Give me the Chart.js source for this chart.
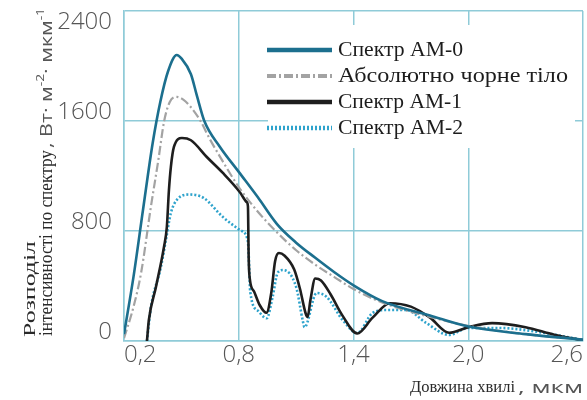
<!DOCTYPE html>
<html>
<head>
<meta charset="utf-8">
<script src="https://cdn.jsdelivr.net/npm/chart.js@4/dist/chart.umd.min.js"></script>
<style>
  html, body { margin: 0; padding: 0; background: #fff; }
  canvas { display: block; }
</style>
</head>
<body>
<canvas id="chart" width="587" height="400"></canvas>
<script>
// Axis ticks
const xTicks = [0.2, 0.8, 1.4, 2.0, 2.6];
const yTicks = [0, 800, 1600, 2400];

// Spectral irradiance, W·m⁻²·µm⁻¹, against wavelength, µm
const am0Wl  = [0.2, 0.25, 0.3, 0.35, 0.39, 0.43, 0.476, 0.5, 0.55, 0.58, 0.62, 0.7, 0.8, 0.9, 1.0, 1.1, 1.2, 1.3, 1.4, 1.55, 1.8, 2.0, 2.3, 2.6];
const am0Val = [50, 470, 960, 1440, 1740, 1960, 2080, 2055, 1940, 1790, 1600, 1415, 1230, 1045, 850, 715, 605, 500, 405, 290, 185, 105, 50, 10];

const bbWl  = [0.2, 0.25, 0.29, 0.34, 0.38, 0.41, 0.44, 0.475, 0.51, 0.55, 0.6, 0.65, 0.7, 0.8, 0.9, 1.0, 1.1, 1.2, 1.3, 1.4, 1.55, 1.8, 2.0, 2.3, 2.6];
const bbVal = [20, 250, 500, 970, 1320, 1600, 1740, 1775, 1755, 1700, 1600, 1465, 1345, 1120, 940, 790, 660, 555, 465, 378, 280, 175, 110, 50, 10];

const am1Wl  = [0.32, 0.33, 0.367, 0.409, 0.424, 0.435, 0.445, 0.461, 0.503, 0.55, 0.633, 0.717, 0.805, 0.842, 0.848, 0.852, 0.858, 0.88, 0.91, 0.945, 0.97, 0.99, 1.01, 1.04, 1.09, 1.12, 1.15, 1.16, 1.175, 1.2, 1.23, 1.28, 1.34, 1.42, 1.5, 1.59, 1.7, 1.8, 1.9, 2.0, 2.125, 2.3, 2.45, 2.6];
const am1Val = [0, 153, 393, 684, 829, 1098, 1265, 1411, 1476, 1460, 1338, 1222, 1084, 1010, 980, 600, 450, 360, 260, 205, 350, 580, 640, 620, 520, 380, 200, 175, 300, 455, 440, 340, 190, 55, 170, 275, 250, 170, 60, 100, 130, 100, 45, 5];

const am2Wl  = [0.32, 0.341, 0.393, 0.419, 0.445, 0.476, 0.544, 0.617, 0.717, 0.805, 0.842, 0.85, 0.86, 0.9, 0.946, 0.977, 1.003, 1.03, 1.1, 1.134, 1.144, 1.207, 1.26, 1.343, 1.42, 1.5, 1.572, 1.676, 1.78, 1.9, 2.0, 2.16, 2.37, 2.6];
const am2Val = [0, 247, 538, 735, 931, 1025, 1065, 1040, 902, 807, 756, 690, 360, 220, 165, 320, 495, 516, 393, 153, 100, 349, 320, 153, 58, 204, 225, 225, 131, 44, 95, 95, 65, 7];

const seriesNames = ['Спектр АМ-0', 'Абсолютно чорне тіло', 'Спектр АМ-1', 'Спектр АМ-2'];

const GRID = '#8fcbd8';
const SERIF = '"Liberation Serif", "DejaVu Serif", serif';
const SANS = '"Open Sans", "DejaVu Sans", sans-serif';

const toPoints = (wl, val) => wl.map((x, i) => ({ x, y: val[i] }));
const fmt = v => v.toFixed(1).replace('.', ',');

const styles = [
  { color: '#1c6f8e', width: 2.6, dash: [],            legendWidth: 4.5 },
  { color: '#a3a3a3', width: 2.2, dash: [9, 3, 2, 3],  legendWidth: 4 },
  { color: '#1e1e1e', width: 2.6, dash: [],            legendWidth: 4.5 },
  { color: '#2ea3cc', width: 2.6, dash: [2, 2],        legendWidth: 4.5 }
];
const seriesData = [
  toPoints(am0Wl, am0Val),
  toPoints(bbWl, bbVal),
  toPoints(am1Wl, am1Val),
  toPoints(am2Wl, am2Val)
];

// Draws a run of text pieces, stretched horizontally to fill a given length
function drawRun(ctx, pieces, x, y, length) {
  let total = 0;
  pieces.forEach(p => { ctx.font = p.font; total += ctx.measureText(p.text).width; });
  const sx = length / total;
  ctx.save();
  ctx.translate(x, y);
  ctx.scale(sx, 1);
  ctx.textBaseline = 'middle';
  ctx.textAlign = 'left';
  let cx = 0;
  pieces.forEach(p => {
    ctx.font = p.font;
    ctx.fillStyle = p.color;
    ctx.fillText(p.text, cx, p.dy || 0);
    cx += ctx.measureText(p.text).width;
  });
  ctx.restore();
}

const overlay = {
  id: 'overlay',
  beforeDatasetsDraw(chart) {
    const { ctx, chartArea: a } = chart;
    // white panel behind the key
    ctx.save();
    ctx.fillStyle = '#fff';
    ctx.fillRect(a.left + 144, a.top + 14, 307, 123);
    ctx.restore();
  },
  afterDraw(chart) {
    const { ctx, chartArea: a } = chart;
    // key
    const rowY = [50, 76, 102, 128];
    const labelLen = [125, 230, 124, 125];
    styles.forEach((s, i) => {
      ctx.save();
      ctx.strokeStyle = s.color;
      ctx.lineWidth = s.legendWidth;
      ctx.setLineDash(s.dash);
      ctx.beginPath();
      ctx.moveTo(a.left + 143, rowY[i]);
      ctx.lineTo(a.left + 208, rowY[i]);
      ctx.stroke();
      ctx.restore();
      drawRun(ctx, [{ text: seriesNames[i], font: '21px ' + SERIF, color: '#1c1c1c' }],
        a.left + 214, rowY[i], labelLen[i]);
    });

    // x axis title
    drawRun(ctx, [{ text: 'Довжина хвилі', font: '16px ' + SERIF, color: '#2a2a2a' }], 410, 388, 105);
    drawRun(ctx, [{ text: ', мкм', font: '17px ' + SANS, color: '#555' }], 518, 388, 65);

    // y axis title, rotated
    ctx.save();
    ctx.rotate(-Math.PI / 2);
    drawRun(ctx, [{ text: 'Розподіл', font: '17px ' + SERIF, color: '#2a2a2a' }], -337, 31, 96);
    drawRun(ctx, [{ text: 'інтенсивності по спектру', font: '18px ' + SERIF, color: '#2a2a2a' }], -336, 47, 186);
    drawRun(ctx, [
      { text: ', Вт· м', font: '17px ' + SANS, color: '#555' },
      { text: '-2', font: '11px ' + SANS, color: '#555', dy: -6 },
      { text: '· мкм', font: '17px ' + SANS, color: '#555' },
      { text: '-1', font: '11px ' + SANS, color: '#555', dy: -6 }
    ], -148, 47, 140);
    ctx.restore();
  }
};

new Chart(document.getElementById('chart'), {
  type: 'line',
  data: {
    datasets: seriesData.map((d, i) => ({
      label: seriesNames[i],
      data: d,
      borderColor: styles[i].color,
      borderWidth: styles[i].width,
      borderDash: styles[i].dash,
      cubicInterpolationMode: 'monotone',
      pointRadius: 0,
      fill: false
    }))
  },
  options: {
    responsive: false,
    animation: false,
    devicePixelRatio: 1,
    layout: { padding: { top: 11, right: 4, left: 0, bottom: 0 } },
    plugins: { legend: { display: false }, tooltip: { enabled: false } },
    scales: {
      x: {
        type: 'linear',
        min: 0.2,
        max: 2.6,
        afterBuildTicks: s => { s.ticks = xTicks.map(v => ({ value: v })); },
        afterFit: s => { s.height = 59; s.paddingLeft = 0; s.paddingRight = 0; },
        grid: { color: GRID, lineWidth: 1.5, drawTicks: false },
        border: { color: GRID, width: 1.5 },
        ticks: {
          align: 'inner',
          padding: 0,
          color: '#555',
          font: { family: SANS, size: 24, weight: 300 },
          callback: v => fmt(v)
        }
      },
      y: {
        min: 0,
        max: 2400,
        afterBuildTicks: s => { s.ticks = yTicks.map(v => ({ value: v })); },
        afterFit: s => { s.width = 124; s.paddingTop = 0; s.paddingBottom = 0; },
        grid: { color: GRID, lineWidth: 1.5, drawTicks: false },
        border: { color: GRID, width: 1.5 },
        ticks: {
          padding: 12,
          labelOffset: -9,
          color: '#555',
          font: { family: SANS, size: 24, weight: 300, lineHeight: 1.7 },
          callback: v => v === yTicks[yTicks.length - 1] ? ['', String(v)] : String(v)
        }
      }
    }
  },
  plugins: [overlay]
});
</script>
</body>
</html>
